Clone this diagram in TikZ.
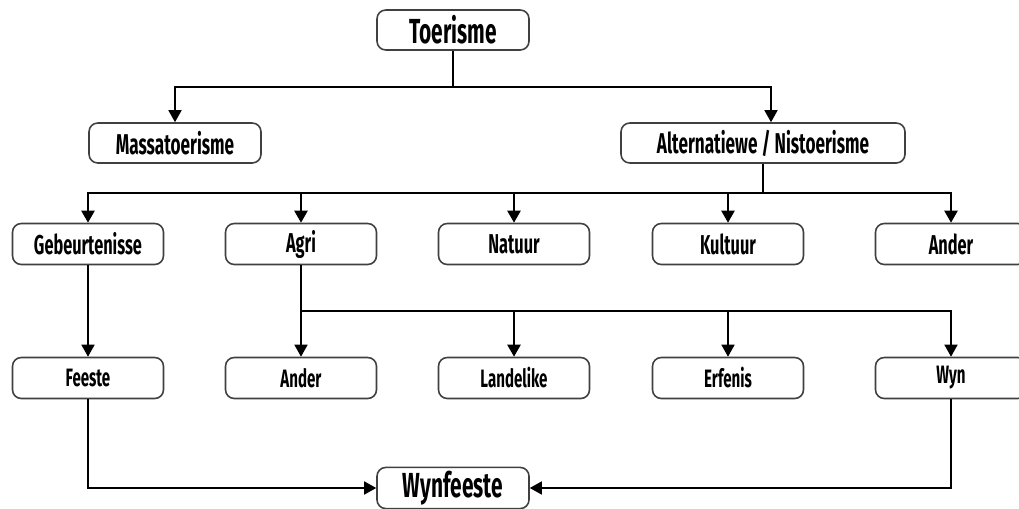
\documentclass[tikz,border=0pt]{standalone}
\usepackage{fontspec}
\setmainfont{Fira Sans}[FakeStretch=0.6]
\usetikzlibrary{arrows.meta}

\tikzset{
  box/.style={draw=black!75, line width=0.9pt, rounded corners=5pt, fill=white,
    minimum width=3.02cm, minimum height=0.82cm, inner sep=2pt,
    font=\fontsize{15.5}{17}\selectfont\bfseries},
  midbox/.style={box, font=\fontsize{16.3}{18}\selectfont\bfseries},
  bigbox/.style={box, font=\fontsize{19.8}{22}\selectfont\bfseries},
  smallbox/.style={box, font=\fontsize{14.3}{16}\selectfont\bfseries},
  link/.style={line width=0.9pt},
  heavylink/.style={line width=1.3pt}
}

\begin{document}
\begin{tikzpicture}[>={Triangle[length=2.4mm,width=2.6mm]}]
  \useasboundingbox (0,0) rectangle (20.38,-10.16);
  % top
  \node[bigbox, minimum width=3.04cm, minimum height=0.8cm] (toer) at (9.06,-0.6) {Toerisme};
  \node[midbox, minimum width=3.44cm, minimum height=0.8cm] (massa) at (3.5,-2.86) {Massatoerisme};
  \node[midbox, minimum width=5.68cm, minimum height=0.8cm] (alt) at (15.26,-2.86) {Alternatiewe / Nistoerisme};
  % row three
  \node[box] (geb)  at (1.76,-4.88)  {Gebeurtenisse};
  \node[box] (agri) at (6.02,-4.88)  {Agri};
  \node[box] (nat)  at (10.28,-4.88) {Natuur};
  \node[box] (kul)  at (14.56,-4.88) {Kultuur};
  \node[box] (and1) at (19.02,-4.88) {Ander};
  % row four
  \node[smallbox] (fees) at (1.76,-7.56)  {Feeste};
  \node[smallbox] (and2) at (6.02,-7.56)  {Ander};
  \node[smallbox] (land) at (10.28,-7.56) {Landelike};
  \node[smallbox] (erf)  at (14.56,-7.56) {Erfenis};
  \node[smallbox] (wyn)  at (19.02,-7.56) {Wyn};
  % bottom
  \node[bigbox, minimum width=3.04cm] (wynf) at (9.06,-9.76) {Wynfeeste};

  \coordinate (j1) at (9.06,-1.74);
  \coordinate (j2) at (15.26,-3.86);
  \coordinate (j3) at (6.02,-6.22);

  \draw[link] (toer) -- (j1);
  \draw[link, ->] (j1) -| (massa);
  \draw[link, ->] (j1) -| ([xshift=0.16cm]alt.north);

  \draw[heavylink] (alt) -- (j2);
  \draw[heavylink, ->] (j2) -| (geb);
  \draw[heavylink, ->] (j2) -| (agri);
  \draw[heavylink, ->] (j2) -| (nat);
  \draw[heavylink, ->] (j2) -| (kul);
  \draw[heavylink, ->] (j2) -| (and1);

  \draw[link, ->] (geb) -- (fees);

  \draw[heavylink] (agri) -- (j3);
  \draw[link, ->] (j3) -- (and2);
  \draw[heavylink, ->] (j3) -| (land);
  \draw[link, ->] (j3) -| (erf);
  \draw[link, ->] (j3) -| (wyn);

  \draw[link, ->] (fees) |- (wynf);
  \draw[link, ->] (wyn) |- (wynf);
\end{tikzpicture}
\end{document}
